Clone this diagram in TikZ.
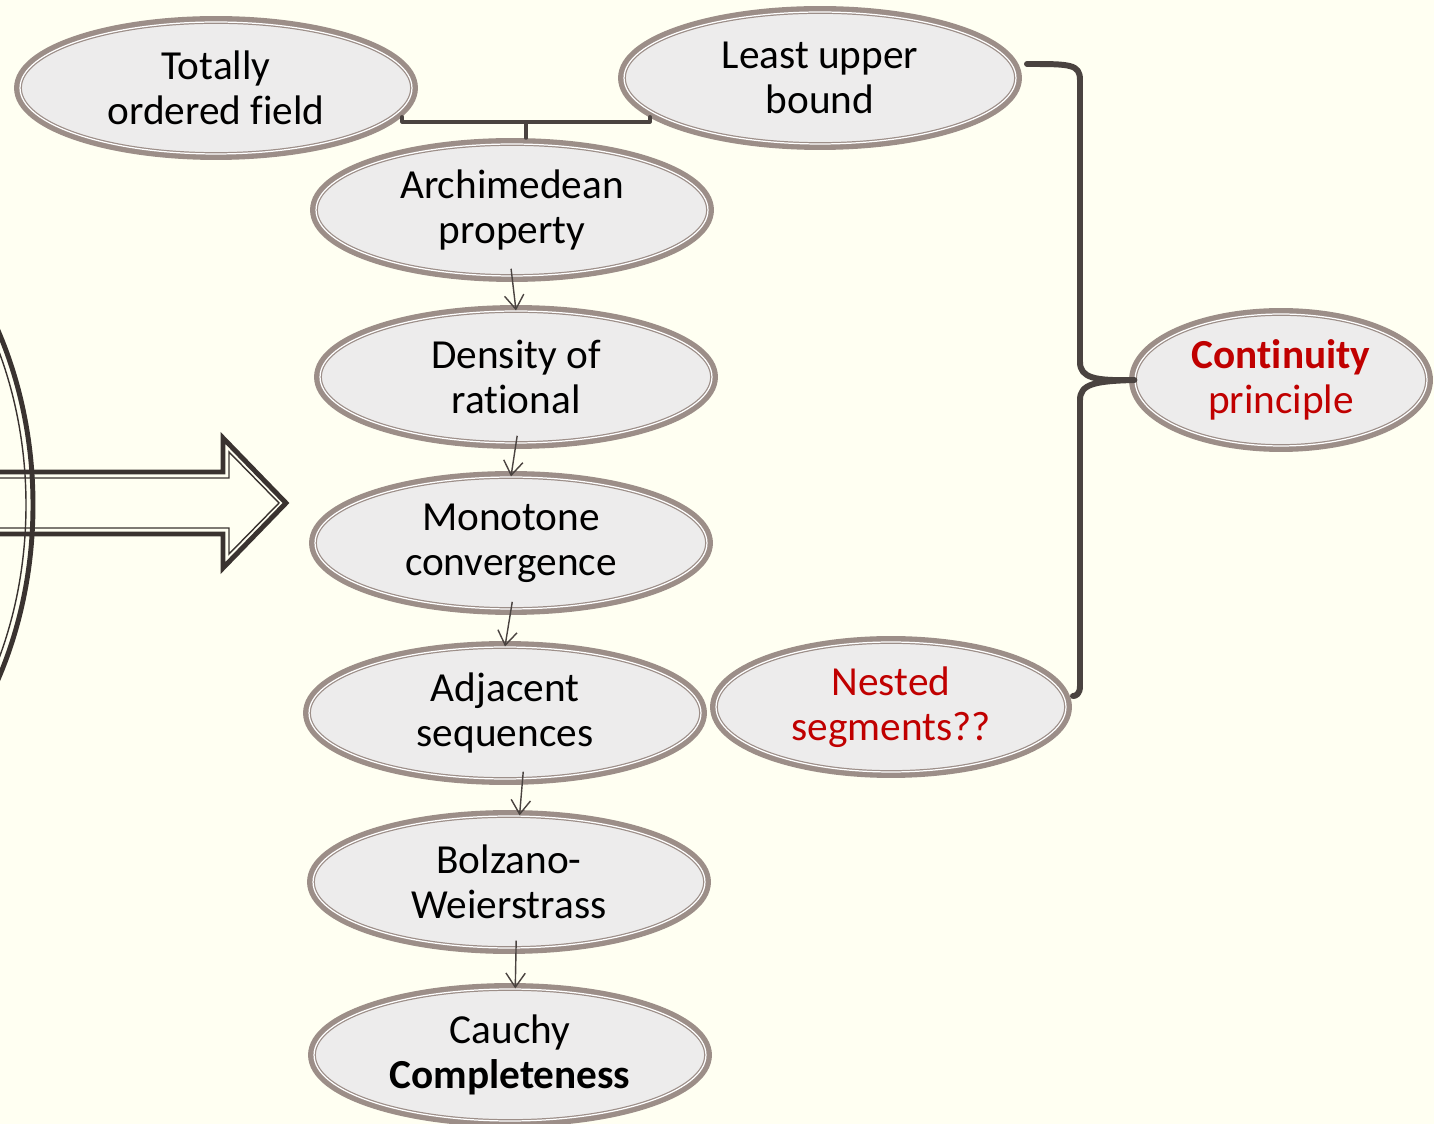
\documentclass[tikz,border=0pt]{standalone}
\usepackage{fontspec}
\setmainfont{Carlito}[Ligatures=NoCommon]
\usetikzlibrary{shapes.geometric,arrows.meta}
\definecolor{bgcol}{HTML}{FFFFF2}
\definecolor{ringcol}{HTML}{9C8E88}
\definecolor{cellcol}{HTML}{EDECEC}
\definecolor{linecol}{HTML}{4A4340}
\definecolor{darkcol}{HTML}{3A3330}
\definecolor{redtxt}{HTML}{C00000}
\tikzset{
  idea/.style={ellipse, minimum width=7.84cm, minimum height=2.64cm, inner sep=0pt,
    preaction={draw=ringcol, line width=6.8pt},
    fill=cellcol, draw=ringcol, double=white, double distance=0.7pt, line width=0.7pt,
    align=center, font=\fontsize{23.5}{25.5}\selectfont},
  steplink/.style={-{Straight Barb[length=8pt,width=11pt]}, draw=linecol, line width=0.8pt, shorten <=-4.5pt},
  tie/.style={draw=linecol, line width=1.8pt, line cap=round, line join=round},
  bigbrace/.style={draw=linecol, line width=3.4pt, line cap=round, line join=round},
}
\begin{document}
\begin{tikzpicture}[x=0.02cm, y=-0.02cm]
\fill[bgcol] (0,0) rectangle (1434,1124);
\useasboundingbox (0,0) rectangle (1434,1124);
\begin{scope}
\clip (0,0) rectangle (1434,1124);
% ring and block arrow on the left
\draw[darkcol, line width=2.8pt] (-250,505) ellipse (283 and 362);
\draw[darkcol, line width=0.8pt] (-250,505) ellipse (276 and 355);
\draw[darkcol, line width=2.8pt] (-10,472) -- (223,472) -- (223,438) -- (286,503) -- (223,568) -- (223,534) -- (-10,534);
\draw[darkcol, line width=0.8pt] (-10,478) -- (229,478) -- (229,452) -- (279,503) -- (229,554) -- (229,528) -- (-10,528);
\end{scope}
% the chain
\node[idea] (field) at (216,88) {Totally\\ordered field};
\node[idea] (lub) at (820,78) {Least upper\\bound};
\node[idea] (archi) at (512,210) {Archimedean\\property};
\node[idea] (dens) at (516,377) {Density of\\rational};
\node[idea] (mono) at (511,543) {Monotone\\convergence};
\node[idea] (adj) at (505,713) {Adjacent\\sequences};
\node[idea] (bw) at (509,882) {Bolzano-\\Weierstrass};
\node[idea] (cauchy) at (510,1055) {Cauchy\\\textbf{Completeness}};
\node[idea, minimum width=7cm, minimum height=2.6cm, text=redtxt] (nested) at (891,707) {Nested\\segments??};
\node[idea, minimum width=5.84cm, text=redtxt] (cont) at (1281,380) {\textbf{Continuity}\\principle};
% arrows
\draw[steplink] (archi.south) -- (dens.north);
\draw[steplink] (dens.south) -- (mono.north);
\draw[steplink] (mono.south) -- (adj.north);
\draw[steplink] ([xshift=10pt]adj.south) -- ([xshift=6pt]bw.north);
\draw[steplink] ([xshift=4pt]bw.south) -- ([xshift=3pt]cauchy.north);
% tie under the two axioms
\coordinate (tieL) at (402,122);
\coordinate (tieR) at (650,122);
\coordinate (tieM) at (526,122);
\draw[tie] ([yshift=3]tieL) -- (tieL) -- (tieR) -- ([yshift=3]tieR);
\draw[tie, shorten >=3] (tieM) -- (tieM |- archi.north);
% brace to the continuity principle
\coordinate (braceTop) at (1027,64);
\coordinate (braceBot) at (1073,696);
\draw[bigbrace] (braceTop) .. controls (1070,64) and (1080,64) .. (1080,80) -- (1080,362)
  .. controls (1080,378) and (1095,381) .. (cont.west)
  .. controls (1095,381) and (1080,384) .. (1080,400) -- (1080,686)
  .. controls (1080,694) and (1076,696) .. (braceBot);
\end{tikzpicture}
\end{document}
